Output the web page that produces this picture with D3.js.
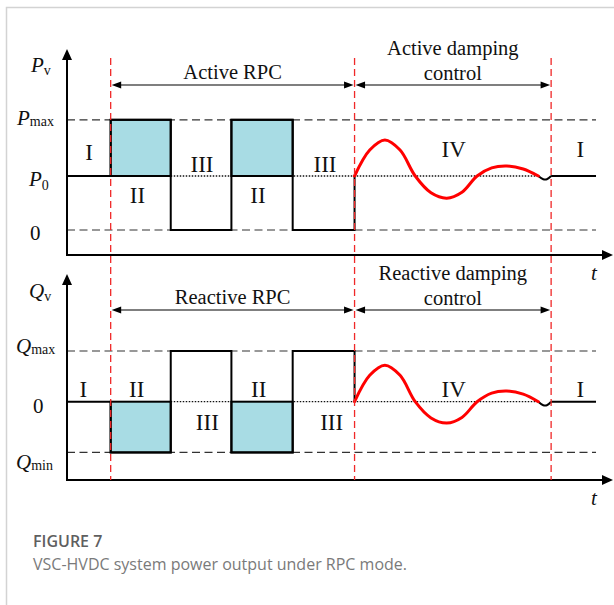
<!DOCTYPE html>
<html lang="en">
<head>
<meta charset="utf-8">
<title>VSC-HVDC power output under RPC mode</title>
<script src="https://d3js.org/d3.v7.min.js"></script>
<style>
    body { margin: 0; background: #fff; }
    svg text { font-family: "Liberation Serif", "Times New Roman", serif; fill: #111; }
    .it { font-style: italic; }
    .cap { font-family: "Open Sans", "Noto Sans", sans-serif; }
</style>
</head>
<body>
<script>

// time axis (arbitrary units)
var stepT = [0, 0.72, 1.71, 2.71, 3.72, 4.74];   // RPC start, switching, RPC end
var dampEndT = 7.98, lineEndT = 8.72, tEnd = 9;

// square-wave levels after each instant
var P0 = 1, Pmax = 2.04;
var pStep = [1, 2.04, 0, 2.04, 0, 1];
var Qmax = 1, Qmin = -1;
var qStep = [0, -1, 1, -1, 1, 0];

// damping oscillation (deviation from the steady level)
var dampT = [4.74, 4.99, 5.24, 5.49, 5.74, 6.0, 6.26, 6.51, 6.76, 7.0, 7.25, 7.52, 7.77];
var dampP = [0, 0.48, 0.667, 0.48, 0, -0.31, -0.41, -0.30, 0, 0.15, 0.185, 0.13, 0];
var dampQ = [0, 0.52, 0.72, 0.52, 0, -0.32, -0.42, -0.31, 0, 0.17, 0.21, 0.15, 0];
var notchT = [7.77, 7.85, 7.91, 7.98];
var notchP = [0, -0.06, -0.06, 0];
var notchQ = [0, -0.07, -0.07, 0];

// stage labels
var stageText = ["I", "II", "III", "II", "III", "IV", "I"];
var stageT = [0.363, 1.162, 2.225, 3.148, 4.253, 6.374, 8.461];
var stageP = [1.296, 0.5, 1.074, 0.5, 1.074, 1.352, 1.352];
var stageTq = [0.269, 1.149, 2.313, 3.161, 4.363, 6.374, 8.461];
var stageQ = [0.093, 0.093, -0.558, 0.093, -0.558, 0.093, 0.093];

var width = 614, height = 605;

var svg = d3.select("body").append("svg")
    .attr("width", width)
    .attr("height", height);

// card frame (top and left edges)
svg.append("path")
    .attr("d", "M6.5,605 V7.5 H614")
    .attr("fill", "none")
    .attr("stroke", "#d3d3d3")
    .attr("stroke-width", 1.5);

var x = d3.scaleLinear().domain([0, tEnd]).range([67, 613]);

var yP = d3.scaleLinear().domain([0, 1]).range([230, 176]);
var yQ = d3.scaleLinear().domain([0, 1]).range([401.7, 351]);

function zipPts(ts, vs, base) {
    return ts.map(function(t, i) { return [t, base + vs[i]]; });
}

function drawPanel(o) {
    var g = svg.append("g");
    var y = o.y;

    // dashed limit lines
    o.limits.forEach(function(v) {
        g.append("line")
            .attr("x1", x(0)).attr("x2", x(lineEndT))
            .attr("y1", y(v)).attr("y2", y(v))
            .attr("stroke", "#333").attr("stroke-width", 1.2)
            .attr("stroke-dasharray", "8,4.5");
    });

    // dotted steady level under toggles and oscillation
    g.append("line")
        .attr("x1", x(stepT[2])).attr("x2", x(notchT[0]))
        .attr("y1", y(o.base)).attr("y2", y(o.base))
        .attr("stroke", "#111").attr("stroke-width", 1.3)
        .attr("stroke-dasharray", "1.5,1.5");

    // filled boxes
    var boxes = [];
    o.steps.forEach(function(v, i) {
        if (o.fillWhen(v) && i < stepT.length - 1) boxes.push({ t0: stepT[i], t1: stepT[i + 1], v: v });
    });
    g.selectAll("rect.box").data(boxes).enter().append("rect")
        .attr("class", "box")
        .attr("x", d => x(d.t0))
        .attr("width", d => x(d.t1) - x(d.t0))
        .attr("y", d => Math.min(y(d.v), y(o.base)))
        .attr("height", d => Math.abs(y(d.v) - y(o.base)))
        .attr("fill", "#a8dce4")
        .attr("stroke", "#000").attr("stroke-width", 2);

    // square wave
    var step = d3.line().x(d => x(d[0])).y(d => y(d[1])).curve(d3.curveStepAfter);
    g.append("path")
        .attr("d", step(stepT.map((t, i) => [t, o.steps[i]])))
        .attr("fill", "none").attr("stroke", "#000").attr("stroke-width", 2);

    // return to steady level after damping
    g.append("path")
        .attr("d", d3.line().x(d => x(d[0])).y(d => y(d[1]))([[dampEndT, o.base], [lineEndT, o.base]]))
        .attr("stroke", "#000").attr("stroke-width", 2);

    var smooth = d3.line().x(d => x(d[0])).y(d => y(d[1])).curve(d3.curveCatmullRom);
    g.append("path")
        .attr("d", smooth(zipPts(notchT, o.notch, o.base)))
        .attr("fill", "none").attr("stroke", "#000").attr("stroke-width", 2);

    g.append("path")
        .attr("d", smooth(zipPts(dampT, o.damp, o.base)))
        .attr("fill", "none").attr("stroke", "#ff0000").attr("stroke-width", 3)
        .attr("stroke-linecap", "round");

    // axes with arrows
    g.append("line")
        .attr("x1", x(0)).attr("x2", x(0))
        .attr("y1", o.axisY).attr("y2", o.tipY + 8)
        .attr("stroke", "#000").attr("stroke-width", 2);
    g.append("path")
        .attr("d", `M${x(0)},${o.tipY} l-5,11 h10 z`)
        .attr("fill", "#000");
    g.append("line")
        .attr("x1", x(0) - 1).attr("x2", x(tEnd) - 8)
        .attr("y1", o.axisY).attr("y2", o.axisY)
        .attr("stroke", "#000").attr("stroke-width", 2);
    g.append("path")
        .attr("d", `M${x(tEnd)},${o.axisY} l-11,-5 v10 z`)
        .attr("fill", "#000");

    // double arrows for the control stages
    var spans = [[stepT[1], stepT[5]], [stepT[5], dampEndT]];
    spans.forEach(function(s) {
        var a = x(s[0]), b = x(s[1]);
        g.append("line")
            .attr("x1", a + 5).attr("x2", b - 5)
            .attr("y1", o.arrowY).attr("y2", o.arrowY)
            .attr("stroke", "#000").attr("stroke-width", 1.1);
        g.append("path")
            .attr("d", `M${a + 1},${o.arrowY} l9.5,-3.6 v7.2 z M${b - 1},${o.arrowY} l-9.5,-3.6 v7.2 z`)
            .attr("fill", "#000");
    });

    g.append("text")
        .attr("x", (x(stepT[1]) + x(stepT[5])) / 2).attr("y", o.arrowY - 6)
        .attr("text-anchor", "middle").style("font-size", "20.5px")
        .text(o.rpcText);
    var dc = g.append("text")
        .attr("x", (x(stepT[5]) + x(dampEndT)) / 2).attr("y", o.arrowY - 30)
        .attr("text-anchor", "middle").style("font-size", "20.5px");
    dc.append("tspan").text(o.dampText);
    dc.append("tspan").attr("x", (x(stepT[5]) + x(dampEndT)) / 2).attr("dy", 24.5).text("control");

    // stage numerals
    g.selectAll("text.stage").data(o.stages).enter().append("text")
        .attr("class", "stage")
        .attr("x", d => x(d[0])).attr("y", d => y(d[1]))
        .attr("text-anchor", "middle").style("font-size", "23px")
        .text(d => d[2]);

    // y labels
    o.ylabels.forEach(function(l) {
        var t = g.append("text").attr("x", l.x).attr("y", l.y).style("font-size", "21px");
        if (l.plain) { t.text(l.plain); return; }
        t.append("tspan").attr("class", "it").text(l.main);
        t.append("tspan").style("font-size", "14px").attr("dy", l.dy).text(l.sub);
    });

    g.append("text").attr("class", "it")
        .attr("x", 591).attr("y", o.axisY + 25)
        .style("font-size", "21px").text("t");
}

drawPanel({
    y: yP, base: P0, steps: pStep, limits: [Pmax, 0],
    fillWhen: v => v > P0,
    damp: dampP, notch: notchP,
    axisY: 255, tipY: 49, arrowY: 85,
    rpcText: "Active RPC", dampText: "Active damping",
    stages: stageText.map((s, i) => [stageT[i], stageP[i], s]),
    ylabels: [
        { x: 31, y: 72, main: "P", sub: "v", dy: 3 },
        { x: 17, y: 125, main: "P", sub: "max", dy: 1 },
        { x: 29, y: 186, main: "P", sub: "0", dy: 4 },
        { x: 30, y: 240, plain: "0" }
    ]
});

drawPanel({
    y: yQ, base: 0, steps: qStep, limits: [Qmax, Qmin],
    fillWhen: v => v < 0,
    damp: dampQ, notch: notchQ,
    axisY: 480, tipY: 274, arrowY: 310,
    rpcText: "Reactive RPC", dampText: "Reactive damping",
    stages: stageText.map((s, i) => [stageTq[i], stageQ[i], s]),
    ylabels: [
        { x: 29, y: 298, main: "Q", sub: "v", dy: 3 },
        { x: 16, y: 353, main: "Q", sub: "max", dy: 1 },
        { x: 33, y: 413, plain: "0" },
        { x: 16, y: 469, main: "Q", sub: "min", dy: 1 }
    ]
});

// red dashed stage boundaries across both panels
svg.selectAll("line.bound").data([stepT[1], stepT[5], dampEndT]).enter().append("line")
    .attr("class", "bound")
    .attr("x1", d => x(d)).attr("x2", d => x(d))
    .attr("y1", 58).attr("y2", 480)
    .attr("stroke", "#f02828").attr("stroke-width", 1.3)
    .attr("stroke-dasharray", "7,4");

// caption
svg.append("text").attr("class", "cap")
    .attr("x", 33).attr("y", 547)
    .style("font-size", "16px").style("font-weight", 600).style("fill", "#5f5f5f")
    .text("FIGURE 7");
svg.append("text").attr("class", "cap")
    .attr("x", 33).attr("y", 570)
    .style("font-size", "16px").style("fill", "#7a7a7a")
    .text("VSC-HVDC system power output under RPC mode.");

</script>
</body>
</html>
